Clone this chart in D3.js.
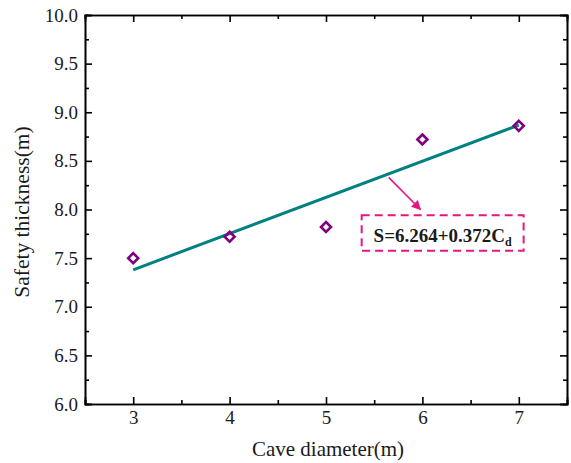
<!DOCTYPE html>
<html>
<head>
<meta charset="utf-8">
<script src="https://cdn.jsdelivr.net/npm/d3@7"></script>
<style>
body { margin: 0; background: #fff; }
svg text { font-family: "Liberation Serif", "Times New Roman", serif; fill: #1a1a1a; }
.axis path, .axis line { stroke: #000; stroke-width: 1.6px; }
</style>
</head>
<body>
<svg id="chart" width="571" height="463"></svg>
<script>
// measured points
var diameters = [3, 4, 5, 6, 7];
var thickness = [7.50, 7.72, 7.82, 8.72, 8.86];
// linear fit S = a + b*Cd
var fitA = 6.264, fitB = 0.372;
var xTicks = [3, 4, 5, 6, 7];
var yTicks = [6.0, 6.5, 7.0, 7.5, 8.0, 8.5, 9.0, 9.5, 10.0];

var svg = d3.select("#chart"),
    margin = {top: 15, right: 4, bottom: 59, left: 85},
    width = +svg.attr("width") - margin.left - margin.right,
    height = +svg.attr("height") - margin.top - margin.bottom;

var x = d3.scaleLinear().domain([2.5, 7.5]).range([0, width]);
var y = d3.scaleLinear().domain([6, 10]).range([height, 0]);

var g = svg.append("g")
    .attr("transform", "translate(" + margin.left + "," + margin.top + ")");

var xMinor = d3.range(2.5, 7.51, 0.5).filter(function(d) { return xTicks.indexOf(d) < 0; });
var yMinor = d3.range(6.25, 10, 0.5);

// minor ticks (inward)
function minor(axis, vals) {
  return axis.tickValues(vals).tickSize(-4).tickFormat("");
}
g.append("g").attr("class", "axis").attr("transform", "translate(0," + height + ")")
    .call(minor(d3.axisBottom(x), xMinor));
g.append("g").attr("class", "axis").call(minor(d3.axisTop(x), xMinor));
g.append("g").attr("class", "axis").call(minor(d3.axisLeft(y), yMinor));
g.append("g").attr("class", "axis").attr("transform", "translate(" + width + ",0)")
    .call(minor(d3.axisRight(y), yMinor));

// major ticks
g.append("g").attr("class", "axis").attr("transform", "translate(0," + height + ")")
    .call(d3.axisBottom(x).tickValues(xTicks).tickSize(-7).tickPadding(7).tickFormat(d3.format("d")));
g.append("g").attr("class", "axis")
    .call(d3.axisTop(x).tickValues(xTicks).tickSize(-7).tickFormat(""));
g.append("g").attr("class", "axis")
    .call(d3.axisLeft(y).tickValues(yTicks).tickSize(-7).tickPadding(7).tickFormat(d3.format(".1f")));
g.append("g").attr("class", "axis").attr("transform", "translate(" + width + ",0)")
    .call(d3.axisRight(y).tickValues(yTicks).tickSize(-7).tickFormat(""));

g.selectAll(".axis text").attr("font-size", "19px").attr("fill", "#1a1a1a");
g.selectAll(".axis .domain").attr("stroke-width", 2);

// fit line
g.append("path")
    .datum([3, 7])
    .attr("fill", "none")
    .attr("stroke", "#008080")
    .attr("stroke-width", 3)
    .attr("d", d3.line()
        .x(function(d) { return x(d); })
        .y(function(d) { return y(fitA + fitB * d); }));

// data markers
g.selectAll(".pt")
    .data(diameters)
    .enter().append("path")
    .attr("class", "pt")
    .attr("transform", function(d, i) { return "translate(" + x(d) + "," + y(thickness[i]) + ")"; })
    .attr("d", "M0,-5L5,0L0,5L-5,0Z")
    .attr("fill", "none")
    .attr("stroke", "#800080")
    .attr("stroke-width", 2.6);

// annotation: arrow + dashed box
var pink = "#e6157f";
svg.append("defs").append("marker")
    .attr("id", "arr")
    .attr("viewBox", "0 0 10 10")
    .attr("refX", 9).attr("refY", 5)
    .attr("markerWidth", 6).attr("markerHeight", 6)
    .attr("orient", "auto")
    .append("path").attr("d", "M0,0L10,5L0,10Z").attr("fill", pink);

svg.append("line")
    .attr("x1", margin.left + x(5.65)).attr("y1", margin.top + y(8.33))
    .attr("x2", margin.left + x(5.98)).attr("y2", margin.top + y(8.0))
    .attr("stroke", pink).attr("stroke-width", 1.6)
    .attr("marker-end", "url(#arr)");

var bx0 = 5.37, bx1 = 7.05, by0 = 7.94, by1 = 7.575;
svg.append("rect")
    .attr("x", margin.left + x(bx0)).attr("y", margin.top + y(by0))
    .attr("width", x(bx1) - x(bx0)).attr("height", y(by1) - y(by0))
    .attr("fill", "none")
    .attr("stroke", pink).attr("stroke-width", 2)
    .attr("stroke-dasharray", "8,5");

var eq = svg.append("text")
    .attr("x", margin.left + x((bx0 + bx1) / 2))
    .attr("y", margin.top + y(7.67))
    .attr("text-anchor", "middle")
    .attr("font-size", "19px")
    .attr("font-weight", "bold");
eq.append("tspan").text("S=6.264+0.372C");
eq.append("tspan").attr("font-size", "12px").attr("dy", 4).text("d");

// axis titles
svg.append("text")
    .attr("x", margin.left + width / 2 + 2)
    .attr("y", 456)
    .attr("text-anchor", "middle")
    .attr("font-size", "21px")
    .text("Cave diameter(m)");

svg.append("text")
    .attr("transform", "translate(29,212) rotate(-90)")
    .attr("text-anchor", "middle")
    .attr("font-size", "21.5px")
    .text("Safety thickness(m)");
</script>
</body>
</html>
